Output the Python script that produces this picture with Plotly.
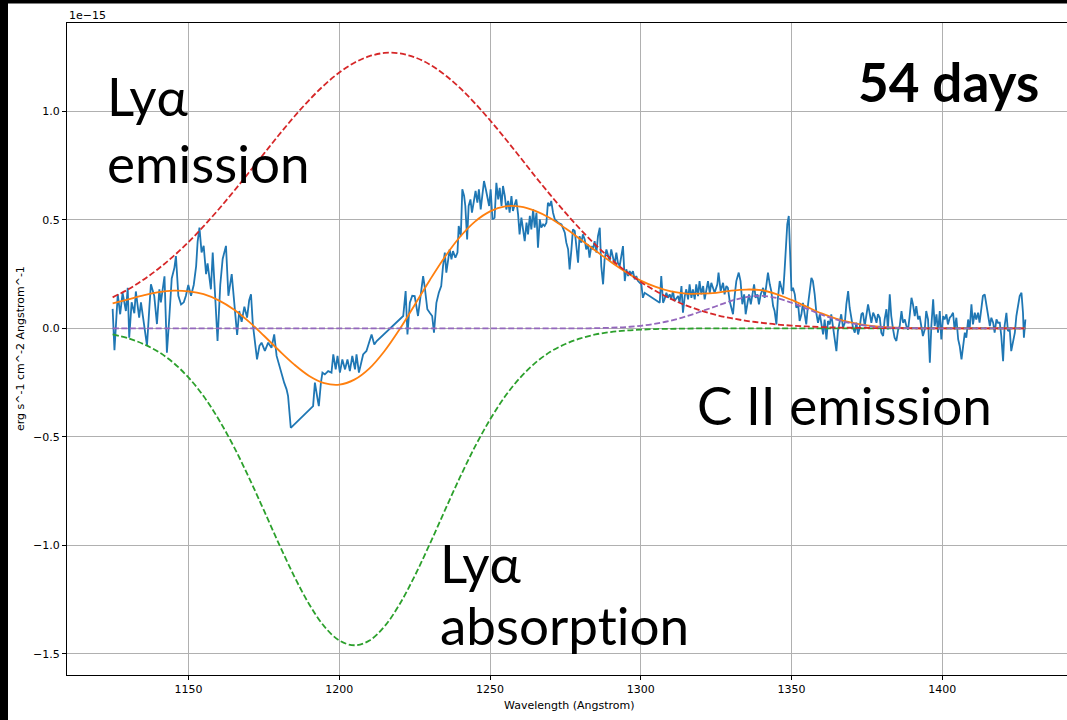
import plotly.graph_objects as go

# ---------------- data (flux in units of 1e-15 erg s^-1 cm^-2 A^-1) ----------------
OBS_WAVE = [
    1124.8, 1125.4, 1126.5, 1127.3, 1128.1, 1129.2, 1129.8, 1130.3, 1131.1, 1132.0,
    1132.5, 1133.6, 1134.2, 1135.3, 1136.2, 1137.0, 1137.5, 1138.6, 1139.5, 1140.3,
    1140.8, 1142.0, 1142.8, 1143.6, 1144.4, 1145.3, 1145.8, 1146.6, 1147.5, 1148.4,
    1149.1, 1149.9, 1150.8, 1151.7, 1152.5, 1153.0, 1153.6, 1154.3, 1155.0, 1155.8,
    1156.3, 1157.4, 1158.0, 1158.8, 1159.6, 1160.5, 1161.3, 1162.4, 1163.2, 1164.3,
    1165.2, 1166.1, 1166.8, 1167.6, 1168.5, 1169.4, 1170.1, 1170.7, 1171.3, 1171.8,
    1172.7, 1173.5,
    1174.2, 1175.3, 1176.4, 1177.5, 1178.4, 1179.2, 1180.3, 1181.1, 1181.7, 1182.5,
    1183.0, 1183.9, 1191.3, 1191.9, 1192.8, 1193.2, 1193.9, 1194.4, 1195.2, 1196.3,
    1197.4, 1198.0, 1198.8, 1199.4, 1200.2, 1201.0, 1201.9, 1202.7, 1203.5, 1204.3,
    1205.2, 1205.7, 1206.5, 1207.4, 1207.9, 1209.0, 1209.8, 1210.7, 1211.6, 1212.4,
    1221.2, 1222.0, 1222.6, 1223.4, 1224.2,
    1225.0, 1226.1, 1227.0, 1227.8, 1228.3, 1229.2, 1230.0, 1230.8, 1231.4, 1232.2,
    1233.0, 1233.8, 1234.4, 1235.0, 1235.5, 1236.1, 1236.6, 1237.2, 1237.7, 1238.5,
    1239.2, 1239.6, 1240.3, 1240.8, 1241.4, 1241.8, 1242.4, 1242.9, 1243.5, 1244.0,
    1244.7, 1245.2, 1245.8, 1246.3, 1246.9, 1247.5, 1248.0, 1248.6, 1249.1, 1249.7,
    1250.2, 1250.8, 1251.5, 1252.1, 1252.7, 1253.2, 1253.8, 1254.3, 1254.9, 1255.4,
    1256.0, 1256.5, 1257.1, 1257.6, 1258.2, 1258.7, 1259.3, 1259.8, 1260.4, 1260.9,
    1261.5, 1262.1, 1262.6, 1263.2, 1263.7, 1264.3, 1264.8, 1265.4, 1265.9, 1266.5,
    1267.0, 1267.6, 1268.1, 1268.7, 1269.2, 1269.8, 1270.3, 1270.9, 1271.5, 1272.6,
    1273.7,
    1274.8, 1275.3, 1275.9, 1276.4, 1277.0, 1277.5, 1278.1, 1278.6, 1279.2, 1279.7,
    1280.3, 1280.8, 1281.4, 1281.9, 1282.5, 1283.0, 1283.6, 1284.1, 1284.7, 1285.3,
    1285.8, 1286.4, 1286.9, 1287.5, 1288.0, 1288.6, 1289.1, 1289.7, 1290.2, 1290.8,
    1291.3, 1291.9, 1292.4, 1293.0, 1293.5, 1294.1, 1294.7, 1295.2, 1295.8, 1296.3,
    1296.9, 1297.4, 1298.0, 1298.5, 1299.1, 1299.6, 1300.2, 1300.7, 1301.3, 1306.3,
    1306.8, 1307.4, 1307.9, 1308.5, 1309.0, 1309.6, 1310.1, 1310.7, 1311.2, 1312.4,
    1312.9, 1313.5, 1314.0, 1314.6, 1315.1, 1315.7, 1316.2, 1316.8, 1317.3, 1317.9,
    1318.4, 1319.0, 1319.5, 1320.1, 1320.7, 1321.2, 1321.8, 1322.3, 1322.9, 1323.4,
    1324.5, 1325.4, 1325.8, 1326.5, 1327.3, 1327.8, 1328.4, 1328.9, 1329.5, 1330.1,
    1330.6, 1331.2, 1331.7, 1332.5, 1333.1, 1333.7, 1334.3, 1334.8, 1335.4, 1335.9,
    1336.5, 1337.0, 1337.6, 1338.1, 1338.7, 1339.2, 1339.8, 1340.6, 1341.1, 1341.7,
    1342.2, 1342.8, 1343.3, 1343.9, 1344.4, 1345.0, 1345.5, 1346.1, 1346.6, 1347.2,
    1347.7, 1348.3, 1348.6, 1349.1, 1349.5, 1350.0, 1350.5, 1351.1, 1351.6, 1352.2,
    1352.7, 1353.3, 1353.8, 1354.4, 1354.9, 1355.5, 1356.0, 1356.6, 1357.1, 1357.7,
    1358.3, 1358.8, 1359.4, 1359.9, 1360.5, 1361.0, 1361.6, 1362.1, 1362.7, 1363.2,
    1363.8, 1364.3, 1364.9, 1365.4, 1366.0, 1366.5, 1367.1, 1367.7, 1368.2, 1368.8,
    1369.3, 1369.9, 1370.4, 1371.0, 1371.5, 1372.1, 1372.6, 1373.2, 1373.7, 1374.3,
    1374.8, 1375.4,
    1376.0, 1376.5, 1377.1, 1377.6, 1378.2, 1378.7, 1379.3, 1379.8, 1380.4, 1380.9,
    1381.5, 1382.0, 1382.6, 1383.1, 1383.7, 1384.2, 1384.8, 1385.4, 1385.9, 1386.5,
    1387.0, 1387.6, 1388.1, 1388.7, 1389.2, 1389.8, 1390.3, 1390.9, 1391.4, 1392.0,
    1392.5, 1393.1, 1393.6, 1394.2, 1394.7, 1395.3, 1395.9, 1396.4, 1397.0, 1397.5,
    1398.1, 1398.6, 1399.2, 1399.7, 1400.3, 1400.8, 1401.4, 1401.9, 1402.5, 1403.0,
    1403.6, 1404.1, 1404.7, 1405.3, 1405.8, 1406.4, 1406.9, 1407.5, 1408.0, 1408.6,
    1409.1, 1409.7, 1410.2, 1410.8, 1411.3, 1411.9, 1412.4, 1413.0, 1413.5, 1414.1,
    1414.7, 1415.2, 1415.8, 1416.3, 1416.9, 1417.4, 1418.0, 1418.5, 1419.1, 1419.6,
    1420.2, 1420.7, 1421.3, 1421.8, 1422.4, 1422.9, 1423.5, 1424.1, 1424.6, 1425.2,
    1425.7, 1426.3, 1426.8, 1427.1, 1427.6,
]
OBS_FLUX = [
    0.090, -0.100, 0.157, 0.065, 0.164, 0.080, 0.187, -0.043, 0.120, 0.070,
    0.170, 0.050, 0.120, 0.020, -0.080, 0.100, 0.203, 0.150, 0.020, 0.180,
    0.120, 0.240, -0.112, 0.050, 0.230, 0.280, 0.333, 0.150, 0.110, 0.120,
    0.150, 0.200, 0.150, 0.200, 0.287, 0.400, 0.464, 0.350, 0.380, 0.250,
    0.300, 0.180, 0.349, 0.150, -0.058, 0.200, 0.320, 0.380, 0.150, 0.250,
    0.100, -0.030, 0.080, 0.030, 0.100, 0.050, 0.130, 0.157, 0.020, -0.050,
    -0.143, -0.080,
    -0.066, -0.104, -0.066, -0.089, -0.028, -0.127, -0.189, -0.220, -0.250, -0.281,
    -0.312, -0.458, -0.358, -0.250, -0.327, -0.358, -0.250, -0.204, -0.212, -0.197,
    -0.204, -0.120, -0.189, -0.127, -0.204, -0.143, -0.189, -0.143, -0.197, -0.127,
    -0.189, -0.120, -0.204, -0.158, -0.120, -0.104, -0.066, -0.028, -0.074, -0.058,
    0.057, 0.172, -0.028, 0.118, 0.150,
    0.149, 0.057, 0.149, 0.241, 0.195, 0.088, 0.072, 0.057, -0.020, 0.118,
    0.164, 0.195, 0.287, 0.349, 0.257, 0.318, 0.364, 0.318, 0.356, 0.326,
    0.349, 0.472, 0.425, 0.641, 0.610, 0.564, 0.410, 0.564, 0.594, 0.533,
    0.602, 0.633, 0.579, 0.641, 0.548, 0.618, 0.679, 0.641, 0.610, 0.564,
    0.641, 0.502, 0.510, 0.671, 0.594, 0.648, 0.564, 0.656, 0.610, 0.548,
    0.587, 0.533, 0.610, 0.541, 0.571, 0.594, 0.525, 0.433, 0.510, 0.449,
    0.402, 0.487, 0.433, 0.518, 0.456, 0.548, 0.464, 0.533, 0.372, 0.502,
    0.464, 0.479, 0.472, 0.487, 0.579, 0.564, 0.587, 0.533, 0.502, 0.487,
    0.479,
    0.441, 0.395, 0.364, 0.272, 0.364, 0.456, 0.449, 0.395, 0.303, 0.425,
    0.395, 0.433, 0.410, 0.364, 0.387, 0.326, 0.379, 0.364, 0.402, 0.349,
    0.425, 0.464, 0.287, 0.203, 0.318, 0.364, 0.333, 0.310, 0.364, 0.318,
    0.295, 0.349, 0.303, 0.287, 0.326, 0.379, 0.218, 0.272, 0.241, 0.264,
    0.249, 0.264, 0.226, 0.241, 0.218, 0.210, 0.203, 0.141, 0.164, 0.118,
    0.241, 0.118, 0.134, 0.164, 0.141, 0.157, 0.134, 0.172, 0.126, 0.149,
    0.118, 0.195, 0.072, 0.149, 0.180, 0.134, 0.203, 0.141, 0.180, 0.134,
    0.203, 0.149, 0.218, 0.157, 0.195, 0.134, 0.187, 0.218, 0.164, 0.210,
    0.164, 0.203, 0.257, 0.172, 0.210, 0.157, 0.195, 0.187, 0.126, 0.095,
    0.065, 0.157, 0.218, 0.257, 0.218, 0.111, 0.157, 0.065, 0.126, 0.157,
    0.111, 0.164, 0.203, 0.141, 0.157, 0.111, 0.157, 0.187, 0.141, 0.203,
    0.257, 0.203, 0.172, 0.103, 0.080, 0.018, 0.141, 0.218, 0.195, 0.157,
    0.264, 0.418, 0.479, 0.518, 0.387, 0.172, 0.187, 0.157, 0.095, 0.111,
    0.034, 0.065, 0.118, 0.049, 0.018, 0.111, 0.172, 0.233, 0.218, 0.157,
    0.065, 0.026, 0.065, 0.018, -0.028, 0.041, -0.051, 0.034, 0.018, 0.065,
    0.003, -0.058, -0.105, -0.012, 0.034, 0.065, 0.003, 0.026, 0.111, 0.172,
    0.095, 0.034, 0.003, -0.020, 0.026, -0.028, 0.003, 0.065, 0.072, 0.011,
    0.065, 0.111,
    0.065, 0.026, 0.072, 0.057, 0.026, 0.065, 0.049, -0.020, -0.035, 0.041,
    0.088, -0.005, 0.157, 0.057, -0.005, -0.043, -0.058, -0.005, 0.011, 0.080,
    0.026, 0.041, 0.011, -0.005, 0.057, 0.141, 0.111, 0.057, 0.103, 0.041,
    0.057, 0.011, -0.035, -0.005, 0.080, 0.041, -0.158, 0.011, 0.134, 0.011,
    0.065, -0.020, 0.080, -0.051, 0.057, 0.041, 0.065, 0.018, 0.049, 0.057,
    0.072, -0.005, 0.049, -0.051, -0.081, -0.143, -0.081, -0.020, -0.043, 0.041,
    -0.005, 0.111, 0.018, 0.072, 0.041, 0.072, 0.026, 0.088, 0.149, 0.157,
    0.103, 0.072, 0.011, 0.049, 0.026, -0.020, 0.041, 0.026, 0.026, -0.035,
    -0.151, 0.011, 0.072, -0.012, -0.005, -0.105, -0.066, -0.020, 0.057, 0.118,
    0.149, 0.164, 0.072, -0.043, 0.041,
]

MODEL_WAVE = [
    1124.8, 1130, 1135, 1140, 1145, 1150, 1155, 1160, 1165, 1170,
    1175, 1180, 1185, 1190, 1195, 1200, 1205, 1210, 1215, 1220,
    1225, 1230, 1235, 1240, 1245, 1250, 1255, 1260, 1265, 1270,
    1275, 1280, 1285, 1290, 1295, 1300, 1305, 1310, 1315, 1320,
    1325, 1330, 1335, 1340, 1345, 1350, 1355, 1360, 1365, 1370,
    1375, 1380, 1385, 1390, 1395, 1400, 1405, 1410, 1415, 1420,
    1427.6,
]
FIT_TOTAL = [
    0.115, 0.134, 0.152, 0.167, 0.174, 0.171, 0.158, 0.129, 0.087, 0.031,
    -0.034, -0.102, -0.166, -0.219, -0.252, -0.259, -0.236, -0.184, -0.104, -0.004,
    0.108, 0.222, 0.329, 0.421, 0.492, 0.539, 0.562, 0.561, 0.541, 0.507,
    0.461, 0.410, 0.358, 0.307, 0.260, 0.220, 0.191, 0.170, 0.160, 0.160,
    0.164, 0.174, 0.179, 0.176, 0.158, 0.131, 0.100, 0.069, 0.044, 0.026,
    0.014, 0.007, 0.003, 0.001, 0.0, 0.0, 0.0, 0.0, 0.0, 0.0,
    0.0,
]
LYA_ABSORPTION = [
    -0.028, -0.046, -0.072, -0.108, -0.159, -0.227, -0.313, -0.420, -0.545, -0.687,
    -0.839, -0.994, -1.141, -1.271, -1.373, -1.438, -1.460, -1.438, -1.373, -1.271,
    -1.141, -0.994, -0.839, -0.687, -0.545, -0.420, -0.313, -0.227, -0.159, -0.108,
    -0.072, -0.046, -0.028, -0.017, -0.010, -0.006, -0.003, -0.002, -0.001, 0.0,
    0.0, 0.0, 0.0, 0.0, 0.0, 0.0, 0.0, 0.0, 0.0, 0.0,
    0.0, 0.0, 0.0, 0.0, 0.0, 0.0, 0.0, 0.0, 0.0, 0.0,
    0.0,
]
LYA_EMISSION = [
    0.143, 0.180, 0.224, 0.275, 0.333, 0.398, 0.471, 0.549, 0.632, 0.718,
    0.805, 0.892, 0.975, 1.052, 1.121, 1.179, 1.224, 1.254, 1.269, 1.267,
    1.249, 1.216, 1.168, 1.108, 1.037, 0.959, 0.875, 0.788, 0.700, 0.615,
    0.533, 0.456, 0.385, 0.321, 0.264, 0.214, 0.172, 0.136, 0.106, 0.082,
    0.062, 0.047, 0.035, 0.026, 0.018, 0.013, 0.009, 0.006, 0.004, 0.003,
    0.002, 0.001, 0.001, 0.0, 0.0, 0.0, 0.0, 0.0, 0.0, 0.0,
    0.0,
]
CII_EMISSION = [
    0.0, 0.0, 0.0, 0.0, 0.0, 0.0, 0.0, 0.0, 0.0, 0.0,
    0.0, 0.0, 0.0, 0.0, 0.0, 0.0, 0.0, 0.0, 0.0, 0.0,
    0.0, 0.0, 0.0, 0.0, 0.0, 0.0, 0.0, 0.0, 0.0, 0.0,
    0.0, 0.0, 0.001, 0.003, 0.006, 0.012, 0.022, 0.036, 0.055, 0.078,
    0.102, 0.127, 0.144, 0.150, 0.140, 0.118, 0.091, 0.063, 0.040, 0.023,
    0.012, 0.006, 0.002, 0.001, 0.0, 0.0, 0.0, 0.0, 0.0, 0.0,
    0.0,
]

X_TICKS = [1150, 1200, 1250, 1300, 1350, 1400]
Y_TICKS = [-1.5, -1.0, -0.5, 0.0, 0.5, 1.0]
Y_TICK_TEXT = ["\u22121.5", "\u22121.0", "\u22120.5", "0.0", "0.5", "1.0"]

# ---------------- figure ----------------
W, H = 1067, 720
ML, MR, MT, MB = 67, 0, 23, 45
PW, PH = W - ML - MR, H - MT - MB


def px(xp):
    return (xp - ML) / PW


def py(yp):
    return (H - MB - yp) / PH


LW = 1.8
DASH = "6px,2.6px"
fig = go.Figure()
fig.add_trace(go.Scatter(x=OBS_WAVE, y=OBS_FLUX, mode="lines",
                         line=dict(color="#1f77b4", width=LW)))
fig.add_trace(go.Scatter(x=MODEL_WAVE, y=FIT_TOTAL, mode="lines",
                         line=dict(color="#ff7f0e", width=LW, shape="spline", smoothing=1)))
fig.add_trace(go.Scatter(x=MODEL_WAVE, y=LYA_ABSORPTION, mode="lines",
                         line=dict(color="#2ca02c", width=LW, dash=DASH, shape="spline", smoothing=1)))
fig.add_trace(go.Scatter(x=MODEL_WAVE, y=LYA_EMISSION, mode="lines",
                         line=dict(color="#d62728", width=LW, dash=DASH, shape="spline", smoothing=1)))
fig.add_trace(go.Scatter(x=MODEL_WAVE, y=CII_EMISSION, mode="lines",
                         line=dict(color="#9467bd", width=LW, dash=DASH, shape="spline", smoothing=1)))

axis_font = dict(family="DejaVu Sans", size=11, color="#000")
fig.update_xaxes(range=[1109.66, 1441.4], tickvals=X_TICKS, ticktext=[str(v) for v in X_TICKS],
                 showgrid=True, gridcolor="#b0b0b0", gridwidth=0.8, zeroline=False,
                 showline=True, linecolor="#000", linewidth=1, mirror=True,
                 ticks="outside", ticklen=4, tickwidth=1, tickcolor="#000",
                 tickfont=axis_font)
fig.update_yaxes(range=[-1.597, 1.407], tickvals=Y_TICKS, ticktext=Y_TICK_TEXT,
                 showgrid=True, gridcolor="#b0b0b0", gridwidth=0.8, zeroline=False,
                 showline=True, linecolor="#000", linewidth=1, mirror=False,
                 ticks="outside", ticklen=4, tickwidth=1, tickcolor="#000",
                 tickfont=axis_font)

big = dict(family="Lato, Open Sans, DejaVu Sans", size=53, color="#000")
ann = [
    dict(text="Ly\u03b1", x=px(105), y=py(95), xanchor="left", yanchor="middle", font=big),
    dict(text="emission", x=px(105), y=py(162), xanchor="left", yanchor="middle", font=big),
    dict(text="<b>54 days</b>", x=px(856), y=py(81), xanchor="left", yanchor="middle", font=big),
    dict(text="C II emission", x=px(695), y=py(405), xanchor="left", yanchor="middle", font=big),
    dict(text="Ly\u03b1", x=px(438), y=py(562), xanchor="left", yanchor="middle", font=big),
    dict(text="absorpt\u200cion", x=px(438), y=py(624), xanchor="left", yanchor="middle", font=big),
    dict(text="1e\u221215", x=px(67), y=py(15), xanchor="left", yanchor="middle",
         font=dict(family="DejaVu Sans", size=11, color="#000")),
    dict(text="Wavelength (Angstrom)", x=px(569), y=py(705), xanchor="center", yanchor="middle",
         font=dict(family="DejaVu Sans", size=11, color="#000")),
    dict(text="erg s^-1 cm^-2 Angstrom^-1", x=px(20), y=py(349), xanchor="center", yanchor="middle",
         textangle=-90, font=dict(family="DejaVu Sans", size=11, color="#000")),
]
for a in ann:
    a.update(xref="paper", yref="paper", showarrow=False)

shapes = [
    dict(type="rect", xref="paper", yref="paper", x0=px(0), x1=px(8), y0=py(H), y1=py(0),
         fillcolor="#000", line=dict(width=0), layer="above"),
    dict(type="rect", xref="paper", yref="paper", x0=px(0), x1=px(W), y0=py(3.5), y1=py(0),
         fillcolor="#000", line=dict(width=0), layer="above"),
]

fig.update_layout(width=W, height=H, margin=dict(l=ML, r=MR, t=MT, b=MB, autoexpand=False),
                  paper_bgcolor="#fff", plot_bgcolor="#fff", showlegend=False,
                  annotations=ann, shapes=shapes)

fig.write_html("out.html")
